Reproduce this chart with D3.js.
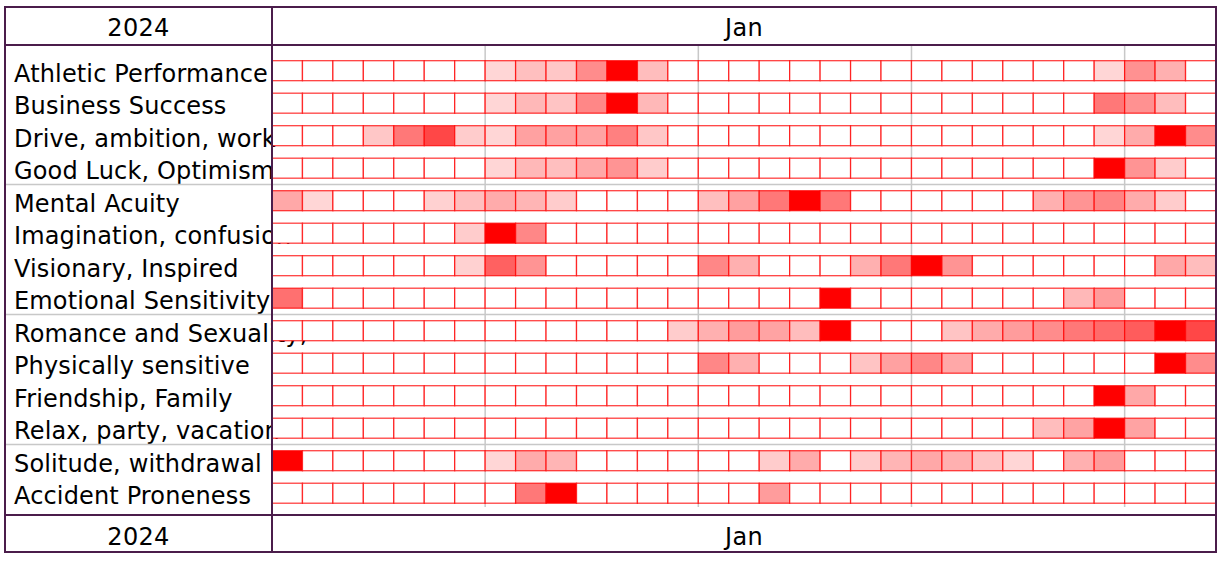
<!DOCTYPE html>
<html>
<head>
<meta charset="utf-8">
<script src="https://cdn.jsdelivr.net/npm/d3@7"></script>
<style>
  html, body { margin: 0; padding: 0; background: #fff; }
  svg { display: block; }
  text { font-family: Verdana, "DejaVu Sans", sans-serif; fill: #000; }
</style>
</head>
<body>
<svg id="chart" width="1222" height="562"></svg>
<script>
// ---- data ----
const yearLabel = "2024";
const monthLabel = "Jan";
const days = d3.range(1, 32);
const categories = [
  "Athletic Performance",
  "Business Success",
  "Drive, ambition, work",
  "Good Luck, Optimism",
  "Mental Acuity",
  "Imagination, confusion",
  "Visionary, Inspired",
  "Emotional Sensitivity",
  "Romance and Sexuality,",
  "Physically sensitive",
  "Friendship, Family",
  "Relax, party, vacation",
  "Solitude, withdrawal",
  "Accident Proneness"
];
const groupSizes = [4, 4, 4, 2];
// intensity 0..10 per day (Jan 1..31)
const athletic     = [0,0,0,0,0,0,0,1.6,2.5,2.2,4.5,10,2.6,0,0,0,0,0,0,0,0,0,0,0,0,0,0,1.6,4.3,3.1,0];
const business     = [0,0,0,0,0,0,0,1.6,2.8,2.3,4.7,10,2.8,0,0,0,0,0,0,0,0,0,0,0,0,0,0,5.3,4.3,2.6,0];
const drive        = [0,0,0,2.2,5.3,7.2,2.0,1.6,3.7,3.7,3.6,5.0,2.2,0,0,0,0,0,0,0,0,0,0,0,0,0,0,1.6,3.3,10,4.5];
const goodLuck     = [0,0,0,0,0,0,0,1.6,2.8,2.5,3.4,4.2,2.0,0,0,0,0,0,0,0,0,0,0,0,0,0,0,10,4.2,2.0,0];
const mental       = [3.4,1.6,0,0,0,1.8,2.5,3.3,2.9,2.0,0,0,0,0,2.5,3.7,5.3,10,5.3,0,0,0,0,0,0,3.1,4.2,4.8,3.3,2.0,0];
const imagination  = [0,0,0,0,0,0,2.0,10,4.7,0,0,0,0,0,0,0,0,0,0,0,0,0,0,0,0,0,0,0,0,0,0];
const visionary    = [0,0,0,0,0,0,1.8,6.2,4.2,0,0,0,0,0,4.7,3.1,0,0,0,3.1,5.3,10,4.2,0,0,0,0,0,0,3.4,2.6];
const emotional    = [5.6,0,0,0,0,0,0,0,0,0,0,0,0,0,0,0,0,0,10,0,0,0,0,0,0,0,2.8,3.9,0,0,0];
const romance      = [0,0,0,0,0,0,0,0,0,0,0,0,0,2.0,3.1,3.9,3.6,2.6,10,0,0,0,2.3,3.3,3.9,4.5,5.3,5.8,6.4,10,7.2];
const physical     = [0,0,0,0,0,0,0,0,0,0,0,0,0,0,4.7,3.1,0,0,0,2.3,3.7,4.7,3.4,0,0,0,0,0,0,10,4.5];
const friendship   = [0,0,0,0,0,0,0,0,0,0,0,0,0,0,0,0,0,0,0,0,0,0,0,0,0,0,0,10,3.4,0,0];
const relax        = [0,0,0,0,0,0,0,0,0,0,0,0,0,0,0,0,0,0,0,0,0,0,0,0,0,2.6,3.6,10,3.6,0,0];
const solitude     = [10,0,0,0,0,0,0,1.6,3.3,2.9,0,0,0,0,0,0,2.0,3.3,0,2.0,2.9,3.4,3.1,2.3,1.6,0,3.1,3.9,0,0,0];
const accident     = [0,0,0,0,0,0,0,0,5.3,10,0,0,0,0,0,0,3.9,0,0,0,0,0,0,0,0,0,0,0,0,0,0];
const seriesValues = [athletic, business, drive, goodLuck, mental, imagination, visionary,
  emotional, romance, physical, friendship, relax, solitude, accident];
const weekStarts = [8, 15, 22, 29];

// ---- layout ----
const svg = d3.select("#chart");
const L = 5, R = 1216, T = 7, B = 552;
const labelRight = 272, headTop = 45, headBottom = 515;
const borderColor = "#4b1d4b";

const x = d3.scaleBand().domain(days).range([labelRight, R]).padding(0);
const y = d3.scaleBand().domain(categories).range([48.5, 515.4])
  .paddingInner(0.385).paddingOuter(0.375);
const color = d3.scaleLinear().domain([0, 10]).range(["#ffffff", "#ff0000"]);

const cells = [];
categories.forEach((c, i) => days.forEach((d, j) => cells.push({ c, d, v: seriesValues[i][j] })));

// labels (drawn first so cells cover overflow)
svg.append("g").selectAll("text").data(categories).join("text")
  .attr("x", 14)
  .attr("y", d => y(d) + y.bandwidth() + 1.2)
  .attr("font-size", 24)
  .attr("letter-spacing", 0.15)
  .text(d => d);

// group separators
let acc = 0;
const sepY = [];
groupSizes.slice(0, -1).forEach(n => {
  acc += n;
  const a = categories[acc - 1], b = categories[acc];
  sepY.push((y(a) + y.bandwidth() + y(b)) / 2);
});
svg.append("g").selectAll("line").data(sepY).join("line")
  .attr("x1", L).attr("x2", R).attr("y1", d => d).attr("y2", d => d)
  .attr("stroke", "#c8c8c8").attr("stroke-width", 1.5);

// week gridlines
svg.append("g").selectAll("line").data(weekStarts).join("line")
  .attr("x1", d => x(d)).attr("x2", d => x(d))
  .attr("y1", headTop).attr("y2", 507)
  .attr("stroke", "#c8c8c8").attr("stroke-width", 1.5);

// cells
svg.append("g").selectAll("rect").data(cells).join("rect")
  .attr("x", d => x(d.d))
  .attr("y", d => y(d.c))
  .attr("width", x.bandwidth())
  .attr("height", y.bandwidth())
  .attr("fill", d => color(d.v))
  .attr("stroke", "#ff0000")
  .attr("stroke-opacity", 0.75)
  .attr("stroke-width", 1.3);

// headers
const headers = [
  { t: yearLabel, x: (L + labelRight) / 2, y: 36 },
  { t: monthLabel, x: (labelRight + R) / 2, y: 36 },
  { t: yearLabel, x: (L + labelRight) / 2, y: 545 },
  { t: monthLabel, x: (labelRight + R) / 2, y: 545 }
];
svg.append("g").selectAll("text").data(headers).join("text")
  .attr("x", d => d.x).attr("y", d => d.y)
  .attr("text-anchor", "middle").attr("font-size", 24)
  .attr("letter-spacing", 0.3)
  .text(d => d.t);

// borders
const bg = svg.append("g").attr("stroke", borderColor).attr("stroke-width", 2).attr("fill", "none");
bg.append("rect").attr("x", L).attr("y", T).attr("width", R - L).attr("height", B - T);
bg.append("line").attr("x1", L).attr("x2", R).attr("y1", headTop).attr("y2", headTop);
bg.append("line").attr("x1", L).attr("x2", R).attr("y1", headBottom).attr("y2", headBottom);
bg.append("line").attr("x1", labelRight).attr("x2", labelRight).attr("y1", T).attr("y2", B);
</script>
</body>
</html>
